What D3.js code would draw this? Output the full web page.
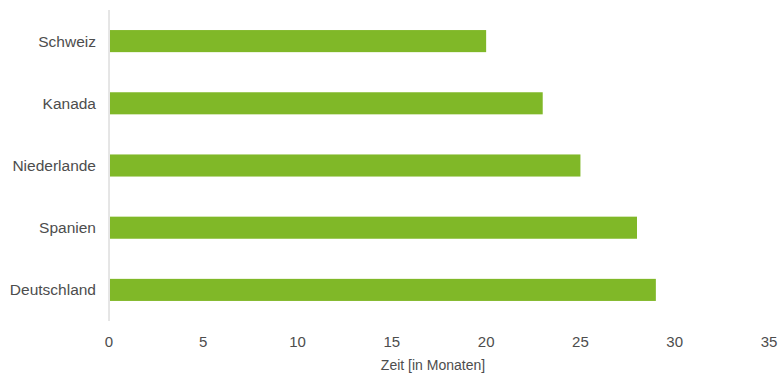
<!DOCTYPE html>
<html>
<head>
<meta charset="utf-8">
<script src="https://cdn.jsdelivr.net/npm/d3@7"></script>
<style>
  body { margin: 0; background: #fff; }
  text { font-family: "Liberation Sans", Arial, sans-serif; fill: #4d4d4d; }
</style>
</head>
<body>
<svg id="chart"></svg>
<script>
var countries = ["Schweiz", "Kanada", "Niederlande", "Spanien", "Deutschland"];
var months = [20, 23, 25, 28, 29];
var xTicks = [0, 5, 10, 15, 20, 25, 30, 35];
var xTitle = "Zeit [in Monaten]";

var width = 779, height = 376;
var svg = d3.select("#chart").attr("width", width).attr("height", height);

var x = d3.scaleLinear().domain([0, 35]).range([109, 769]);
var y = d3.scaleBand().domain(countries).range([10, 321])
    .paddingInner(0.645).paddingOuter(0.3225);

// vertical axis line
svg.append("line")
    .attr("x1", x(0)).attr("x2", x(0))
    .attr("y1", 10).attr("y2", 321)
    .attr("stroke", "#ccc").attr("stroke-width", 1);

svg.selectAll("rect.bar")
    .data(countries)
    .enter().append("rect")
    .attr("class", "bar")
    .attr("x", x(0) + 1)
    .attr("y", function(d) { return y(d); })
    .attr("width", function(d, i) { return x(months[i]) - x(0) - 1; })
    .attr("height", y.bandwidth())
    .attr("fill", "#80b828");

svg.selectAll("text.cat")
    .data(countries)
    .enter().append("text")
    .attr("class", "cat")
    .attr("x", 96)
    .attr("y", function(d) { return y(d) + y.bandwidth() / 2; })
    .attr("dy", "0.35em")
    .attr("text-anchor", "end")
    .attr("font-size", 15.5)
    .text(function(d) { return d; });

svg.selectAll("text.tick")
    .data(xTicks)
    .enter().append("text")
    .attr("class", "tick")
    .attr("x", function(d) { return x(d); })
    .attr("y", 342)
    .attr("dy", "0.35em")
    .attr("text-anchor", "middle")
    .attr("font-size", 15)
    .text(function(d) { return d; });

svg.append("text")
    .attr("x", (x(0) + x(35)) / 2 - 6)
    .attr("y", 365)
    .attr("dy", "0.35em")
    .attr("text-anchor", "middle")
    .attr("font-size", 14)
    .text(xTitle);
</script>
</body>
</html>
